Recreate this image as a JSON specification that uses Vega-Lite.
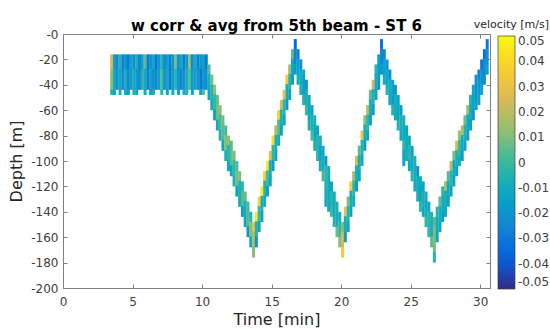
{
"$schema":"https://vega.github.io/schema/vega-lite/v6.json",
"width":427,"height":254,"autosize":"none",
"padding":{"left":63,"top":34,"right":60,"bottom":41},
"background":"white",
"config":{"font":"DejaVu Sans","view":{"stroke":"#808080","strokeWidth":1}},
"title":{"text":"w corr & avg from 5th beam - ST 6","fontSize":15,"fontWeight":"bold","color":"#000000","anchor":"middle","frame":"group","offset":7,"dy":22},
"data":{"values":[
{"t":3.5,"a":-16,"b":-28,"v":0.025},{"t":3.5,"a":-27.5,"b":-44,"v":0.012},{"t":3.5,"a":-43.5,"b":-48,"v":-0.005},
{"t":3.7,"a":-16,"b":-28,"v":-0.015},{"t":3.7,"a":-27.5,"b":-44,"v":-0.01},{"t":3.7,"a":-43.5,"b":-48,"v":-0.012},
{"t":3.9,"a":-16,"b":-28,"v":-0.025},{"t":3.9,"a":-27.5,"b":-44,"v":-0.02},
{"t":4.1,"a":-16,"b":-28,"v":-0.005},{"t":4.1,"a":-27.5,"b":-44,"v":-0.012},{"t":4.1,"a":-43.5,"b":-48,"v":-0.008},
{"t":4.3,"a":-16,"b":-28,"v":-0.028},{"t":4.3,"a":-27.5,"b":-44,"v":-0.022},
{"t":4.5,"a":-16,"b":-28,"v":-0.018},{"t":4.5,"a":-27.5,"b":-44,"v":-0.008},{"t":4.5,"a":-43.5,"b":-48,"v":-0.01},
{"t":4.7,"a":-16,"b":-28,"v":-0.03},{"t":4.7,"a":-27.5,"b":-44,"v":-0.025},{"t":4.7,"a":-43.5,"b":-48,"v":-0.015},
{"t":4.9,"a":-16,"b":-28,"v":-0.012},{"t":4.9,"a":-27.5,"b":-44,"v":-0.015},
{"t":5.1,"a":-16,"b":-28,"v":-0.022},{"t":5.1,"a":-27.5,"b":-44,"v":-0.01},{"t":5.1,"a":-43.5,"b":-48,"v":-0.006},
{"t":5.3,"a":-16,"b":-28,"v":-0.008},{"t":5.3,"a":-27.5,"b":-44,"v":-0.018},{"t":5.3,"a":-43.5,"b":-48,"v":-0.012},
{"t":5.5,"a":-16,"b":-28,"v":-0.026},{"t":5.5,"a":-27.5,"b":-44,"v":-0.024},
{"t":5.7,"a":-16,"b":-28,"v":-0.015},{"t":5.7,"a":-27.5,"b":-44,"v":-0.005},
{"t":5.9,"a":-16,"b":-28,"v":0.005},{"t":5.9,"a":-27.5,"b":-44,"v":-0.01},{"t":5.9,"a":-43.5,"b":-48,"v":-0.01},
{"t":6.1,"a":-16,"b":-28,"v":-0.03},{"t":6.1,"a":-27.5,"b":-44,"v":-0.028},
{"t":6.3,"a":-16,"b":-28,"v":-0.02},{"t":6.3,"a":-27.5,"b":-44,"v":-0.012},{"t":6.3,"a":-43.5,"b":-48,"v":-0.014},
{"t":6.5,"a":-16,"b":-28,"v":-0.01},{"t":6.5,"a":-27.5,"b":-44,"v":-0.02},{"t":6.5,"a":-43.5,"b":-48,"v":-0.008},
{"t":6.7,"a":-16,"b":-28,"v":-0.032},{"t":6.7,"a":-27.5,"b":-44,"v":-0.026},
{"t":6.9,"a":-16,"b":-28,"v":-0.018},{"t":6.9,"a":-27.5,"b":-44,"v":-0.014},
{"t":7.1,"a":-16,"b":-28,"v":-0.006},{"t":7.1,"a":-27.5,"b":-44,"v":0.002},{"t":7.1,"a":-43.5,"b":-48,"v":-0.004},
{"t":7.3,"a":-16,"b":-28,"v":-0.024},{"t":7.3,"a":-27.5,"b":-44,"v":-0.02},
{"t":7.5,"a":-16,"b":-28,"v":-0.014},{"t":7.5,"a":-27.5,"b":-44,"v":-0.01},{"t":7.5,"a":-43.5,"b":-48,"v":-0.012},
{"t":7.7,"a":-16,"b":-28,"v":-0.028},{"t":7.7,"a":-27.5,"b":-44,"v":-0.03},
{"t":7.9,"a":-16,"b":-28,"v":-0.02},{"t":7.9,"a":-27.5,"b":-44,"v":-0.016},{"t":7.9,"a":-43.5,"b":-48,"v":-0.01},
{"t":8.1,"a":-16,"b":-28,"v":0.008},{"t":8.1,"a":-27.5,"b":-44,"v":-0.004},
{"t":8.3,"a":-16,"b":-28,"v":-0.022},{"t":8.3,"a":-27.5,"b":-44,"v":-0.018},{"t":8.3,"a":-43.5,"b":-48,"v":-0.015},
{"t":8.5,"a":-16,"b":-28,"v":-0.012},{"t":8.5,"a":-27.5,"b":-44,"v":-0.026},
{"t":8.7,"a":-16,"b":-28,"v":-0.03},{"t":8.7,"a":-27.5,"b":-44,"v":-0.022},{"t":8.7,"a":-43.5,"b":-48,"v":-0.01},
{"t":8.9,"a":-16,"b":-28,"v":-0.016},{"t":8.9,"a":-27.5,"b":-44,"v":-0.008},{"t":8.9,"a":-43.5,"b":-48,"v":-0.006},
{"t":9.1,"a":-16,"b":-28,"v":0.012},{"t":9.1,"a":-27.5,"b":-44,"v":0.004},
{"t":9.3,"a":-16,"b":-28,"v":-0.024},{"t":9.3,"a":-27.5,"b":-44,"v":-0.018},{"t":9.3,"a":-43.5,"b":-48,"v":-0.012},
{"t":9.5,"a":-16,"b":-28,"v":-0.01},{"t":9.5,"a":-27.5,"b":-44,"v":-0.014},
{"t":9.7,"a":-16,"b":-28,"v":-0.028},{"t":9.7,"a":-27.5,"b":-44,"v":-0.02},
{"t":9.9,"a":-16,"b":-28,"v":-0.018},{"t":9.9,"a":-27.5,"b":-44,"v":-0.03},{"t":9.9,"a":-43.5,"b":-48,"v":-0.014},
{"t":10.1,"a":-16,"b":-28,"v":-0.012},{"t":10.1,"a":-27.5,"b":-44,"v":-0.016},{"t":10.1,"a":-43.5,"b":-48,"v":0.005},
{"t":10.3,"a":-16,"b":-28,"v":-0.03},{"t":10.3,"a":-27.5,"b":-44,"v":-0.022},

{"t":10.5,"a":-24,"b":-32,"v":0.004},{"t":10.5,"a":-31.5,"b":-44,"v":-0.008},{"t":10.5,"a":-43.5,"b":-52,"v":-0.014},
{"t":10.7,"a":-32,"b":-40,"v":0.008},{"t":10.7,"a":-39.5,"b":-52,"v":-0.004},{"t":10.7,"a":-51.5,"b":-60,"v":-0.01},
{"t":10.9,"a":-40,"b":-48,"v":0.012},{"t":10.9,"a":-47.5,"b":-60,"v":-0.002},{"t":10.9,"a":-59.5,"b":-68,"v":-0.014},
{"t":11.1,"a":-48,"b":-56,"v":0.006},{"t":11.1,"a":-55.5,"b":-68,"v":0.008},{"t":11.1,"a":-67.5,"b":-76,"v":-0.01},
{"t":11.3,"a":-56,"b":-64,"v":0.012},{"t":11.3,"a":-63.5,"b":-76,"v":0.002},{"t":11.3,"a":-75.5,"b":-84,"v":-0.006},
{"t":11.5,"a":-64,"b":-72,"v":0.008},{"t":11.5,"a":-71.5,"b":-84,"v":0.004},{"t":11.5,"a":-83.5,"b":-92,"v":-0.012},
{"t":11.7,"a":-72,"b":-80,"v":0.002},{"t":11.7,"a":-79.5,"b":-92,"v":0.01},{"t":11.7,"a":-91.5,"b":-100,"v":-0.006},
{"t":11.9,"a":-80,"b":-88,"v":0.012},{"t":11.9,"a":-87.5,"b":-100,"v":-0.004},{"t":11.9,"a":-99.5,"b":-108,"v":-0.01},
{"t":12.1,"a":-84,"b":-92,"v":0.004},{"t":12.1,"a":-91.5,"b":-104,"v":0.006},{"t":12.1,"a":-103.5,"b":-112,"v":-0.012},
{"t":12.3,"a":-92,"b":-100,"v":0.008},{"t":12.3,"a":-99.5,"b":-112,"v":-0.002},{"t":12.3,"a":-111.5,"b":-120,"v":-0.008},
{"t":12.5,"a":-100,"b":-108,"v":0.002},{"t":12.5,"a":-107.5,"b":-120,"v":0.008},{"t":12.5,"a":-119.5,"b":-128,"v":-0.012},
{"t":12.7,"a":-108,"b":-116,"v":0.01},{"t":12.7,"a":-115.5,"b":-128,"v":-0.006},{"t":12.7,"a":-127.5,"b":-136,"v":-0.01},
{"t":12.9,"a":-116,"b":-124,"v":-0.002},{"t":12.9,"a":-123.5,"b":-136,"v":0.004},{"t":12.9,"a":-135.5,"b":-144,"v":-0.014},
{"t":13.1,"a":-124,"b":-132,"v":0.006},{"t":13.1,"a":-131.5,"b":-144,"v":-0.008},{"t":13.1,"a":-143.5,"b":-152,"v":-0.012},
{"t":13.3,"a":-132,"b":-140,"v":0.002},{"t":13.3,"a":-139.5,"b":-152,"v":0.004},{"t":13.3,"a":-151.5,"b":-160,"v":-0.02},
{"t":13.5,"a":-140,"b":-148,"v":-0.006},{"t":13.5,"a":-147.5,"b":-160,"v":0.01},{"t":13.5,"a":-159.5,"b":-168,"v":-0.01},
{"t":13.7,"a":-148,"b":-156,"v":0.03},{"t":13.7,"a":-155.5,"b":-168,"v":0.018},{"t":13.7,"a":-167.5,"b":-176,"v":0.01},

{"t":13.9,"a":-140,"b":-148,"v":0.045},{"t":13.9,"a":-147.5,"b":-160,"v":-0.005},{"t":13.9,"a":-159.5,"b":-168,"v":-0.022},
{"t":14.1,"a":-128,"b":-136,"v":0.04},{"t":14.1,"a":-135.5,"b":-148,"v":0.0},{"t":14.1,"a":-147.5,"b":-156,"v":-0.012},
{"t":14.3,"a":-120,"b":-128,"v":0.048},{"t":14.3,"a":-127.5,"b":-140,"v":-0.006},{"t":14.3,"a":-139.5,"b":-148,"v":-0.015},
{"t":14.5,"a":-108,"b":-116,"v":0.035},{"t":14.5,"a":-115.5,"b":-128,"v":-0.004},{"t":14.5,"a":-127.5,"b":-136,"v":-0.01},
{"t":14.7,"a":-100,"b":-108,"v":0.045},{"t":14.7,"a":-107.5,"b":-120,"v":0.002},{"t":14.7,"a":-119.5,"b":-128,"v":-0.014},
{"t":14.9,"a":-92,"b":-100,"v":0.03},{"t":14.9,"a":-99.5,"b":-112,"v":-0.008},{"t":14.9,"a":-111.5,"b":-120,"v":-0.012},
{"t":15.1,"a":-80,"b":-88,"v":0.042},{"t":15.1,"a":-87.5,"b":-100,"v":-0.002},{"t":15.1,"a":-99.5,"b":-108,"v":-0.016},
{"t":15.3,"a":-72,"b":-80,"v":0.02},{"t":15.3,"a":-79.5,"b":-92,"v":-0.006},{"t":15.3,"a":-91.5,"b":-100,"v":-0.012},
{"t":15.5,"a":-60,"b":-68,"v":0.038},{"t":15.5,"a":-67.5,"b":-80,"v":0.004},{"t":15.5,"a":-79.5,"b":-88,"v":-0.01},
{"t":15.7,"a":-52,"b":-60,"v":0.025},{"t":15.7,"a":-59.5,"b":-72,"v":-0.006},{"t":15.7,"a":-71.5,"b":-80,"v":-0.014},
{"t":15.9,"a":-44,"b":-52,"v":0.03},{"t":15.9,"a":-51.5,"b":-64,"v":-0.002},{"t":15.9,"a":-63.5,"b":-72,"v":-0.012},
{"t":16.1,"a":-32,"b":-40,"v":0.035},{"t":16.1,"a":-39.5,"b":-52,"v":-0.008},{"t":16.1,"a":-51.5,"b":-60,"v":-0.018},
{"t":16.3,"a":-24,"b":-32,"v":0.015},{"t":16.3,"a":-31.5,"b":-44,"v":-0.004},{"t":16.3,"a":-43.5,"b":-52,"v":-0.014},
{"t":16.5,"a":-12,"b":-20,"v":0.005},{"t":16.5,"a":-19.5,"b":-32,"v":-0.01},{"t":16.5,"a":-31.5,"b":-40,"v":-0.016},
{"t":16.7,"a":-4,"b":-12,"v":-0.035},{"t":16.7,"a":-11.5,"b":-24,"v":-0.026},{"t":16.7,"a":-23.5,"b":-32,"v":-0.016},

{"t":16.9,"a":-12,"b":-20,"v":-0.028},{"t":16.9,"a":-19.5,"b":-32,"v":-0.014},{"t":16.9,"a":-31.5,"b":-40,"v":-0.01},
{"t":17.1,"a":-20,"b":-28,"v":-0.022},{"t":17.1,"a":-27.5,"b":-40,"v":-0.01},{"t":17.1,"a":-39.5,"b":-48,"v":-0.006},
{"t":17.3,"a":-28,"b":-36,"v":-0.012},{"t":17.3,"a":-35.5,"b":-48,"v":-0.016},{"t":17.3,"a":-47.5,"b":-56,"v":-0.004},
{"t":17.5,"a":-36,"b":-44,"v":-0.018},{"t":17.5,"a":-43.5,"b":-56,"v":-0.008},{"t":17.5,"a":-55.5,"b":-64,"v":0.0},
{"t":17.7,"a":-48,"b":-56,"v":-0.01},{"t":17.7,"a":-55.5,"b":-68,"v":-0.012},{"t":17.7,"a":-67.5,"b":-76,"v":-0.006},
{"t":17.9,"a":-56,"b":-64,"v":-0.014},{"t":17.9,"a":-63.5,"b":-76,"v":-0.006},{"t":17.9,"a":-75.5,"b":-84,"v":0.002},
{"t":18.1,"a":-64,"b":-72,"v":-0.008},{"t":18.1,"a":-71.5,"b":-84,"v":-0.012},{"t":18.1,"a":-83.5,"b":-92,"v":-0.008},
{"t":18.3,"a":-72,"b":-80,"v":-0.012},{"t":18.3,"a":-79.5,"b":-92,"v":-0.004},{"t":18.3,"a":-91.5,"b":-100,"v":-0.002},
{"t":18.5,"a":-80,"b":-88,"v":-0.006},{"t":18.5,"a":-87.5,"b":-100,"v":-0.014},{"t":18.5,"a":-99.5,"b":-108,"v":-0.008},
{"t":18.7,"a":-88,"b":-96,"v":-0.012},{"t":18.7,"a":-95.5,"b":-108,"v":-0.008},{"t":18.7,"a":-107.5,"b":-116,"v":0.002},
{"t":18.9,"a":-96,"b":-104,"v":-0.016},{"t":18.9,"a":-103.5,"b":-116,"v":-0.002},{"t":18.9,"a":-115.5,"b":-124,"v":-0.006},{"t":18.9,"a":-123.5,"b":-136,"v":-0.008},
{"t":19.1,"a":-104,"b":-112,"v":-0.008},{"t":19.1,"a":-111.5,"b":-124,"v":-0.01},{"t":19.1,"a":-123.5,"b":-132,"v":-0.01},{"t":19.1,"a":-131.5,"b":-140,"v":-0.01},
{"t":19.3,"a":-116,"b":-124,"v":-0.012},{"t":19.3,"a":-123.5,"b":-136,"v":-0.004},{"t":19.3,"a":-135.5,"b":-144,"v":0.0},
{"t":19.5,"a":-124,"b":-132,"v":-0.01},{"t":19.5,"a":-131.5,"b":-144,"v":-0.01},{"t":19.5,"a":-143.5,"b":-152,"v":-0.006},
{"t":19.7,"a":-132,"b":-140,"v":-0.006},{"t":19.7,"a":-139.5,"b":-152,"v":-0.008},{"t":19.7,"a":-151.5,"b":-160,"v":0.006},
{"t":19.9,"a":-140,"b":-148,"v":-0.01},{"t":19.9,"a":-147.5,"b":-160,"v":-0.002},{"t":19.9,"a":-159.5,"b":-168,"v":0.01},
{"t":20.1,"a":-148,"b":-156,"v":0.01},{"t":20.1,"a":-155.5,"b":-168,"v":0.025},{"t":20.1,"a":-167.5,"b":-176,"v":0.035},

{"t":20.3,"a":-136,"b":-144,"v":0.03},{"t":20.3,"a":-143.5,"b":-156,"v":-0.008},{"t":20.3,"a":-155.5,"b":-164,"v":-0.016},
{"t":20.5,"a":-128,"b":-136,"v":0.01},{"t":20.5,"a":-135.5,"b":-148,"v":-0.004},{"t":20.5,"a":-147.5,"b":-156,"v":-0.012},
{"t":20.7,"a":-116,"b":-124,"v":0.036},{"t":20.7,"a":-123.5,"b":-136,"v":-0.008},{"t":20.7,"a":-135.5,"b":-144,"v":-0.014},
{"t":20.9,"a":-108,"b":-116,"v":0.015},{"t":20.9,"a":-115.5,"b":-128,"v":-0.002},{"t":20.9,"a":-127.5,"b":-136,"v":-0.01},
{"t":21.1,"a":-96,"b":-104,"v":0.028},{"t":21.1,"a":-103.5,"b":-116,"v":-0.006},{"t":21.1,"a":-115.5,"b":-124,"v":-0.016},
{"t":21.3,"a":-88,"b":-96,"v":0.004},{"t":21.3,"a":-95.5,"b":-108,"v":-0.008},{"t":21.3,"a":-107.5,"b":-116,"v":-0.012},
{"t":21.5,"a":-76,"b":-84,"v":0.032},{"t":21.5,"a":-83.5,"b":-96,"v":-0.004},{"t":21.5,"a":-95.5,"b":-104,"v":-0.01},
{"t":21.7,"a":-64,"b":-72,"v":0.012},{"t":21.7,"a":-71.5,"b":-84,"v":-0.008},{"t":21.7,"a":-83.5,"b":-92,"v":-0.016},
{"t":21.9,"a":-56,"b":-64,"v":0.022},{"t":21.9,"a":-63.5,"b":-76,"v":-0.002},{"t":21.9,"a":-75.5,"b":-84,"v":-0.012},
{"t":22.1,"a":-44,"b":-52,"v":0.006},{"t":22.1,"a":-51.5,"b":-64,"v":-0.008},{"t":22.1,"a":-63.5,"b":-72,"v":-0.014},
{"t":22.3,"a":-36,"b":-44,"v":0.024},{"t":22.3,"a":-43.5,"b":-56,"v":-0.006},{"t":22.3,"a":-55.5,"b":-64,"v":-0.016},
{"t":22.5,"a":-24,"b":-32,"v":-0.004},{"t":22.5,"a":-31.5,"b":-44,"v":-0.01},{"t":22.5,"a":-43.5,"b":-52,"v":-0.014},
{"t":22.7,"a":-16,"b":-24,"v":-0.012},{"t":22.7,"a":-23.5,"b":-36,"v":-0.018},{"t":22.7,"a":-35.5,"b":-44,"v":-0.02},
{"t":22.9,"a":-4,"b":-12,"v":-0.032},{"t":22.9,"a":-11.5,"b":-24,"v":-0.024},{"t":22.9,"a":-23.5,"b":-32,"v":-0.016},

{"t":23.1,"a":-12,"b":-20,"v":-0.026},{"t":23.1,"a":-19.5,"b":-32,"v":-0.014},{"t":23.1,"a":-31.5,"b":-40,"v":-0.01},
{"t":23.3,"a":-20,"b":-28,"v":-0.02},{"t":23.3,"a":-27.5,"b":-40,"v":-0.012},{"t":23.3,"a":-39.5,"b":-48,"v":-0.006},
{"t":23.5,"a":-28,"b":-36,"v":-0.024},{"t":23.5,"a":-35.5,"b":-48,"v":-0.01},{"t":23.5,"a":-47.5,"b":-56,"v":-0.01},
{"t":23.7,"a":-36,"b":-44,"v":-0.014},{"t":23.7,"a":-43.5,"b":-56,"v":-0.016},{"t":23.7,"a":-55.5,"b":-64,"v":-0.004},
{"t":23.9,"a":-40,"b":-48,"v":-0.018},{"t":23.9,"a":-47.5,"b":-60,"v":-0.008},{"t":23.9,"a":-59.5,"b":-68,"v":-0.01},
{"t":24.1,"a":-48,"b":-56,"v":-0.012},{"t":24.1,"a":-55.5,"b":-68,"v":-0.012},{"t":24.1,"a":-67.5,"b":-76,"v":-0.006},
{"t":24.3,"a":-56,"b":-64,"v":-0.016},{"t":24.3,"a":-63.5,"b":-76,"v":-0.006},{"t":24.3,"a":-75.5,"b":-84,"v":-0.01},
{"t":24.5,"a":-64,"b":-72,"v":-0.008},{"t":24.5,"a":-71.5,"b":-84,"v":-0.01},{"t":24.5,"a":-83.5,"b":-92,"v":-0.002},{"t":24.5,"a":-91.5,"b":-104,"v":-0.012},
{"t":24.7,"a":-72,"b":-80,"v":-0.012},{"t":24.7,"a":-79.5,"b":-92,"v":-0.01},{"t":24.7,"a":-91.5,"b":-100,"v":-0.008},
{"t":24.9,"a":-80,"b":-88,"v":-0.01},{"t":24.9,"a":-87.5,"b":-100,"v":-0.004},{"t":24.9,"a":-99.5,"b":-108,"v":-0.012},
{"t":25.1,"a":-88,"b":-96,"v":-0.014},{"t":25.1,"a":-95.5,"b":-108,"v":-0.01},{"t":25.1,"a":-107.5,"b":-116,"v":-0.004},
{"t":25.3,"a":-96,"b":-104,"v":-0.006},{"t":25.3,"a":-103.5,"b":-116,"v":-0.008},{"t":25.3,"a":-115.5,"b":-124,"v":-0.01},
{"t":25.5,"a":-104,"b":-112,"v":-0.022},{"t":25.5,"a":-111.5,"b":-124,"v":-0.01},{"t":25.5,"a":-123.5,"b":-132,"v":-0.006},
{"t":25.7,"a":-112,"b":-120,"v":-0.01},{"t":25.7,"a":-119.5,"b":-132,"v":-0.014},{"t":25.7,"a":-131.5,"b":-140,"v":-0.002},
{"t":25.9,"a":-116,"b":-124,"v":-0.012},{"t":25.9,"a":-123.5,"b":-136,"v":-0.006},{"t":25.9,"a":-135.5,"b":-144,"v":-0.01},
{"t":26.1,"a":-124,"b":-132,"v":-0.008},{"t":26.1,"a":-131.5,"b":-144,"v":-0.01},{"t":26.1,"a":-143.5,"b":-152,"v":-0.004},
{"t":26.3,"a":-132,"b":-140,"v":-0.012},{"t":26.3,"a":-139.5,"b":-152,"v":-0.004},{"t":26.3,"a":-151.5,"b":-160,"v":0.0},
{"t":26.5,"a":-140,"b":-148,"v":-0.006},{"t":26.5,"a":-147.5,"b":-160,"v":-0.008},{"t":26.5,"a":-159.5,"b":-168,"v":0.006},
{"t":26.7,"a":-144,"b":-152,"v":0.004},{"t":26.7,"a":-151.5,"b":-164,"v":0.01},{"t":26.7,"a":-163.5,"b":-172,"v":0.008},{"t":26.7,"a":-171.5,"b":-180,"v":-0.004},

{"t":26.9,"a":-136,"b":-144,"v":-0.004},{"t":26.9,"a":-143.5,"b":-156,"v":-0.01},{"t":26.9,"a":-155.5,"b":-164,"v":-0.014},
{"t":27.1,"a":-128,"b":-136,"v":0.006},{"t":27.1,"a":-135.5,"b":-148,"v":-0.008},{"t":27.1,"a":-147.5,"b":-156,"v":-0.012},
{"t":27.3,"a":-120,"b":-128,"v":-0.002},{"t":27.3,"a":-127.5,"b":-140,"v":-0.01},{"t":27.3,"a":-139.5,"b":-148,"v":-0.016},
{"t":27.5,"a":-116,"b":-124,"v":0.018},{"t":27.5,"a":-123.5,"b":-136,"v":-0.006},{"t":27.5,"a":-135.5,"b":-144,"v":-0.01},
{"t":27.7,"a":-108,"b":-116,"v":0.004},{"t":27.7,"a":-115.5,"b":-128,"v":-0.01},{"t":27.7,"a":-127.5,"b":-136,"v":-0.014},
{"t":27.9,"a":-100,"b":-108,"v":0.022},{"t":27.9,"a":-107.5,"b":-120,"v":-0.004},{"t":27.9,"a":-119.5,"b":-128,"v":-0.012},
{"t":28.1,"a":-92,"b":-100,"v":0.01},{"t":28.1,"a":-99.5,"b":-112,"v":-0.01},{"t":28.1,"a":-111.5,"b":-120,"v":-0.016},
{"t":28.3,"a":-84,"b":-92,"v":0.026},{"t":28.3,"a":-91.5,"b":-104,"v":-0.006},{"t":28.3,"a":-103.5,"b":-112,"v":-0.014},
{"t":28.5,"a":-76,"b":-84,"v":0.014},{"t":28.5,"a":-83.5,"b":-96,"v":-0.002},{"t":28.5,"a":-95.5,"b":-104,"v":-0.01},
{"t":28.7,"a":-72,"b":-80,"v":0.02},{"t":28.7,"a":-79.5,"b":-92,"v":-0.01},{"t":28.7,"a":-91.5,"b":-100,"v":-0.016},
{"t":28.9,"a":-64,"b":-72,"v":0.008},{"t":28.9,"a":-71.5,"b":-84,"v":-0.006},{"t":28.9,"a":-83.5,"b":-92,"v":-0.012},
{"t":29.1,"a":-56,"b":-64,"v":0.016},{"t":29.1,"a":-63.5,"b":-76,"v":-0.01},{"t":29.1,"a":-75.5,"b":-84,"v":-0.016},
{"t":29.3,"a":-48,"b":-56,"v":-0.004},{"t":29.3,"a":-55.5,"b":-68,"v":-0.008},{"t":29.3,"a":-67.5,"b":-76,"v":-0.014},
{"t":29.5,"a":-40,"b":-48,"v":-0.012},{"t":29.5,"a":-47.5,"b":-60,"v":-0.014},{"t":29.5,"a":-59.5,"b":-68,"v":-0.018},
{"t":29.7,"a":-32,"b":-40,"v":-0.02},{"t":29.7,"a":-39.5,"b":-52,"v":-0.022},{"t":29.7,"a":-51.5,"b":-60,"v":-0.016},
{"t":29.9,"a":-28,"b":-36,"v":-0.026},{"t":29.9,"a":-35.5,"b":-48,"v":-0.018},{"t":29.9,"a":-47.5,"b":-56,"v":-0.012},
{"t":30.1,"a":-20,"b":-28,"v":-0.03},{"t":30.1,"a":-27.5,"b":-40,"v":-0.022},{"t":30.1,"a":-39.5,"b":-48,"v":-0.014},
{"t":30.3,"a":-12,"b":-20,"v":-0.034},{"t":30.3,"a":-19.5,"b":-32,"v":-0.024},{"t":30.3,"a":-31.5,"b":-40,"v":-0.018},
{"t":30.5,"a":-4,"b":-12,"v":-0.03},{"t":30.5,"a":-11.5,"b":-24,"v":-0.02},{"t":30.5,"a":-23.5,"b":-32,"v":-0.012}
]},
"layer":[
{"mark":{"type":"rect","width":3,"strokeWidth":0},
"encoding":{
"x":{"field":"t","type":"quantitative","scale":{"domain":[0,30.7],"nice":false,"zero":false},
 "axis":{"values":[0,5,10,15,20,25,30],"title":"Time [min]","titleFontSize":16,"titleFontWeight":"normal","titleColor":"#262626","titlePadding":4,"labelFontSize":12,"labelColor":"#404040","labelFlush":false,"labelPadding":12,"tickSize":-4,"tickColor":"#808080","domainColor":"#808080","grid":false}},
"y":{"field":"a","type":"quantitative","scale":{"domain":[-200,0],"nice":false,"zero":false},
 "axis":{"values":[-200,-180,-160,-140,-120,-100,-80,-60,-40,-20,0],"labelExpr":"datum.value == 0 ? '-0' : '' + datum.value","title":"Depth [m]","titleFontSize":16,"titleFontWeight":"normal","titleColor":"#262626","titlePadding":6,"labelFontSize":12,"labelColor":"#404040","labelPadding":9,"tickSize":-4,"tickColor":"#808080","domainColor":"#808080","grid":false}},
"y2":{"field":"b"},
"color":{"field":"v","type":"quantitative",
 "scale":{"domain":[-0.05,0.05],"range":["#352A87","#0363E1","#1485D4","#06A7C6","#38B99E","#92BF73","#D9BA56","#FCCE2E","#F9FB0E"],"interpolate":"rgb","clamp":true},
 "legend":{"type":"gradient","orient":"none","legendX":411,"legendY":-15,"direction":"vertical","gradientLength":253,"gradientThickness":17,"gradientStrokeColor":"#404040","gradientStrokeWidth":0.7,
  "values":[0.05,0.04,0.03,0.02,0.01,0,-0.01,-0.02,-0.03,-0.04,-0.05],"labelExpr":"'' + datum.value","labelFontSize":12,"labelColor":"#404040","labelOffset":3,"labelOverlap":false,"labelBaseline":"middle",
  "title":"velocity [m/s]","titleFontSize":11,"titleFontWeight":"normal","titleColor":"#262626","titleAnchor":"end","titlePadding":6}}
}},
{"mark":{"type":"rect","width":3,"opacity":0},
"encoding":{
"x":{"field":"t","type":"quantitative","scale":{"domain":[0,30.7],"nice":false,"zero":false},
 "axis":{"orient":"top","values":[0,5,10,15,20,25,30],"labels":false,"title":null,"tickSize":-4,"tickColor":"#808080","domain":false,"grid":false}},
"y":{"field":"a","type":"quantitative","scale":{"domain":[-200,0],"nice":false,"zero":false},
 "axis":{"orient":"right","values":[-200,-180,-160,-140,-120,-100,-80,-60,-40,-20,0],"labels":false,"title":null,"tickSize":-4,"tickColor":"#808080","domain":false,"grid":false}},
"y2":{"field":"b"}
}}
],
"resolve":{"axis":{"x":"independent","y":"independent"}}
}
